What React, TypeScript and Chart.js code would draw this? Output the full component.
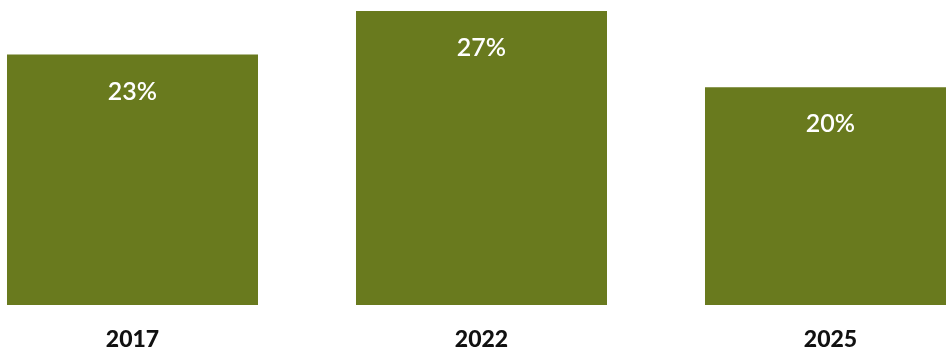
import React, { useEffect, useRef } from "react";
import { Chart, registerables } from "chart.js";

Chart.register(...registerables);

const categories = ["2017", "2022", "2025"];
const values = [23, 27, 20];
const valueLabels = ["23%", "27%", "20%"];

const BAR_COLOR = "#697a1e";

const labelPlugin = {
  id: "inBarLabels",
  afterDatasetsDraw(chart: any) {
    const ctx = chart.ctx;
    const meta = chart.getDatasetMeta(0);
    ctx.save();
    ctx.fillStyle = "#ffffff";
    ctx.font = "600 25px Lato, 'Open Sans', sans-serif";
    ctx.textAlign = "center";
    ctx.textBaseline = "middle";
    meta.data.forEach((bar: any, i: number) => {
      ctx.fillText(valueLabels[i], bar.x, bar.y + 37);
    });
    ctx.restore();
  },
};

export default function App() {
  const ref = useRef<HTMLCanvasElement>(null);
  useEffect(() => {
    if (!ref.current) return;
    const chart = new Chart(ref.current, {
      type: "bar",
      data: {
        labels: categories,
        datasets: [
          {
            data: values,
            backgroundColor: BAR_COLOR,
            borderWidth: 0,
            categoryPercentage: 1,
            barPercentage: 0.7192,
          },
        ],
      },
      options: {
        animation: false,
        responsive: true,
        maintainAspectRatio: false,
        layout: { padding: 0 },
        plugins: { legend: { display: false }, tooltip: { enabled: false } },
        scales: {
          x: {
            grid: { display: false, drawTicks: false },
            border: { display: false },
            ticks: {
              color: "#111111",
              font: { family: "Lato, 'Open Sans', sans-serif", size: 23, weight: "900" },
              padding: 21,
            },
            afterFit: (scale: any) => {
              scale.height = 45;
            },
          },
          y: {
            display: false,
            min: 0,
            max: 28,
          },
        },
      },
      plugins: [labelPlugin],
    });
    return () => chart.destroy();
  }, []);
  return (
    <div style={{ position: "absolute", left: 0, top: 0, width: 946, height: 350, overflow: "hidden", background: "#fff" }}>
      <div style={{ position: "absolute", left: -42, top: 0, width: 1047, height: 350 }}>
        <canvas ref={ref} />
      </div>
    </div>
  );
}
